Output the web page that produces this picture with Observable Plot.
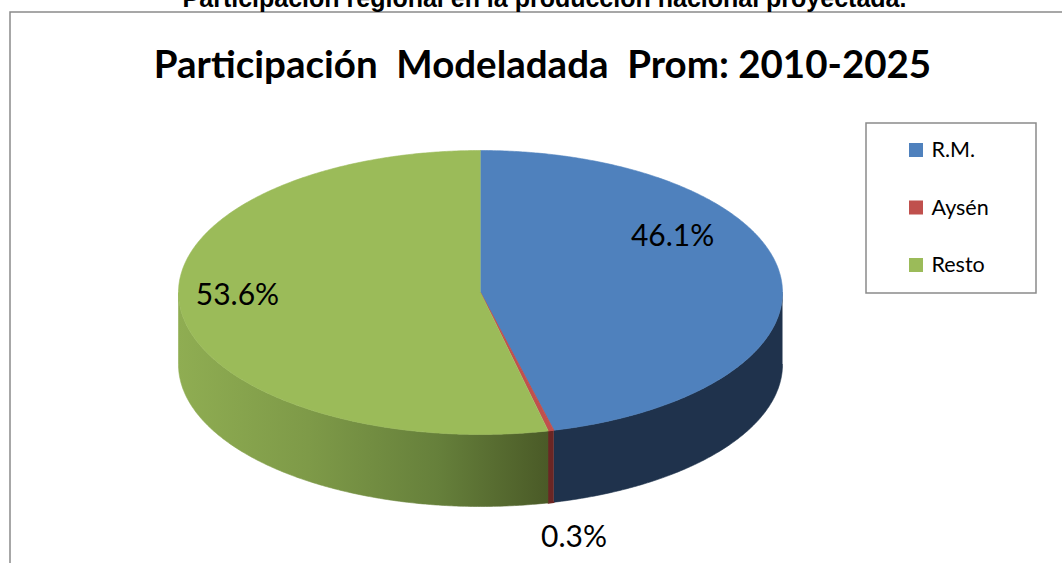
<!DOCTYPE html>
<html><head><meta charset="utf-8">
<script src="https://cdn.jsdelivr.net/npm/d3@7"></script>
<script src="https://cdn.jsdelivr.net/npm/@observablehq/plot@0.6"></script>
<style>
html,body{margin:0;padding:0;background:#fff;overflow:hidden}
#chart svg{display:block}
</style>
</head><body><div id="chart"></div>
<script>
// ---- data ----
const categories = ["R.M.", "Aysén", "Resto"];
const shares = [46.1, 0.3, 53.6];
const valueLabels = ["46.1%", "0.3%", "53.6%"];
const chartTitle = "Participación  Modeladada  Prom: 2010-2025";
const pageTitle = "Participación regional en la producción nacional proyectada.";

// ---- layout / style ----
const W = 1062, H = 563;
const cx = 480, cy = 292, rx = 302, ry = 142, depth = 72;
const topColors = ["#4F81BD", "#C0504D", "#9BBB59"];
const sideColors = ["#1F324C", "#6B2624", "url(#greenSide)"];
const labelPlace = [
  {dAngle: -25, r: 0.75, dx: 0, dy: 0},
  {dAngle: 0, r: 1, dx: 23, dy: 107},
  {dAngle: 5, r: 0.805, dx: 0, dy: 0}
];
const font = "Lato, 'Open Sans', sans-serif";

const rad = d => d * Math.PI / 180;
const ex = (a, r = 1) => cx + r * rx * Math.sin(rad(a));
const ey = (a, r = 1) => cy - r * ry * Math.cos(rad(a));

const total = d3.sum(shares);
let acc = 0;
const slices = categories.map((c, i) => {
  const a0 = acc / total * 360; acc += shares[i];
  const a1 = acc / total * 360;
  return {c, i, a0, a1, mid: (a0 + a1) / 2};
});

function arcPts(a0, a1, off = 0) {
  const n = Math.max(2, Math.ceil((a1 - a0) / 0.5));
  return d3.range(n + 1).map(k => {
    const a = a0 + (a1 - a0) * k / n;
    return {x: ex(a), y: ey(a) + off};
  });
}

const marks = [];
// outer border
marks.push(Plot.frame({stroke: "#8a8a8a", strokeWidth: 1.5, insetLeft: 9.5, insetTop: 11.5, insetRight: -5, insetBottom: -5}));

// side walls (front half, 90..270 deg)
for (const s of slices) {
  const lo = Math.max(s.a0, 90), hi = Math.min(s.a1, 270);
  if (hi <= lo) continue;
  const pts = [...arcPts(lo, hi), ...arcPts(lo, hi, depth).reverse()];
  marks.push(Plot.line(pts, {x: "x", y: "y", fill: sideColors[s.i], stroke: sideColors[s.i], strokeWidth: s.i === 1 ? 1.5 : 0.6}));
}
// top faces
for (const s of slices) {
  const pts = [{x: cx, y: cy}, ...arcPts(s.a0, s.a1)];
  marks.push(Plot.line(pts, {x: "x", y: "y", fill: topColors[s.i], stroke: topColors[s.i], strokeWidth: s.i === 1 ? 1 : 0.6}));
}
// value labels
const lab = slices.map(s => {
  const p = labelPlace[s.i];
  const a = s.mid + p.dAngle;
  return {t: valueLabels[s.i], x: ex(a, p.r) + p.dx, y: ey(a, p.r) + p.dy};
});
marks.push(Plot.text(lab, {x: "x", y: "y", text: "t", fontSize: 30, fontFamily: font, fill: "#000"}));

// titles
marks.push(Plot.text([pageTitle], {frameAnchor: "top-left", dx: 544, dy: 6, textAnchor: "middle", lineAnchor: "bottom", fontSize: 25, fontWeight: "bold", fontFamily: "'Liberation Sans', Arial, sans-serif", fill: "#000"}));
marks.push(Plot.text([chartTitle], {frameAnchor: "top-left", dx: 542, dy: 77, textAnchor: "middle", lineAnchor: "bottom", fontSize: 38.5, fontWeight: "bold", fontFamily: font, fill: "#000"}));

// legend
const lg = {x1: 866, x2: 1036, y1: 123, y2: 293, sx: 909, sw: 14, y0: 150, step: 57.5, tx: 931};
marks.push(Plot.rect([0], {x1: () => lg.x1, x2: () => lg.x2, y1: () => lg.y1, y2: () => lg.y2, fill: "#fff", stroke: "#8a8a8a", strokeWidth: 1.5}));
const legendRows = categories.map((c, i) => ({c, i, y: lg.y0 + i * lg.step}));
marks.push(Plot.rect(legendRows, {x1: () => lg.sx, x2: () => lg.sx + lg.sw, y1: d => d.y - lg.sw / 2, y2: d => d.y + lg.sw / 2, fill: d => topColors[d.i]}));
marks.push(Plot.text(legendRows, {x: () => lg.tx, y: "y", text: "c", textAnchor: "start", fontSize: 21.5, fontFamily: font, fill: "#000"}));

const chart = Plot.plot({
  width: W, height: H,
  margin: 0,
  x: {domain: [0, W], range: [0, W], axis: null},
  y: {domain: [0, H], range: [0, H], axis: null},
  color: {type: "identity"},
  style: {background: "#fff", overflow: "visible"},
  marks
});

const defs = d3.select(chart).insert("defs", ":first-child");
const g = defs.append("linearGradient").attr("id", "greenSide").attr("gradientUnits", "userSpaceOnUse")
  .attr("x1", cx - rx).attr("x2", ex(slices[2].a0)).attr("y1", 0).attr("y2", 0);
[["0", "#8FAD52"], ["0.35", "#7E9A48"], ["0.7", "#66803B"], ["1", "#4A5A27"]].forEach(([o, c]) =>
  g.append("stop").attr("offset", o).attr("stop-color", c));
d3.select(chart).selectAll("text").filter(function() { return this.textContent === chartTitle; })
  .style("white-space", "pre");

document.getElementById("chart").appendChild(chart);
</script>
</body></html>
